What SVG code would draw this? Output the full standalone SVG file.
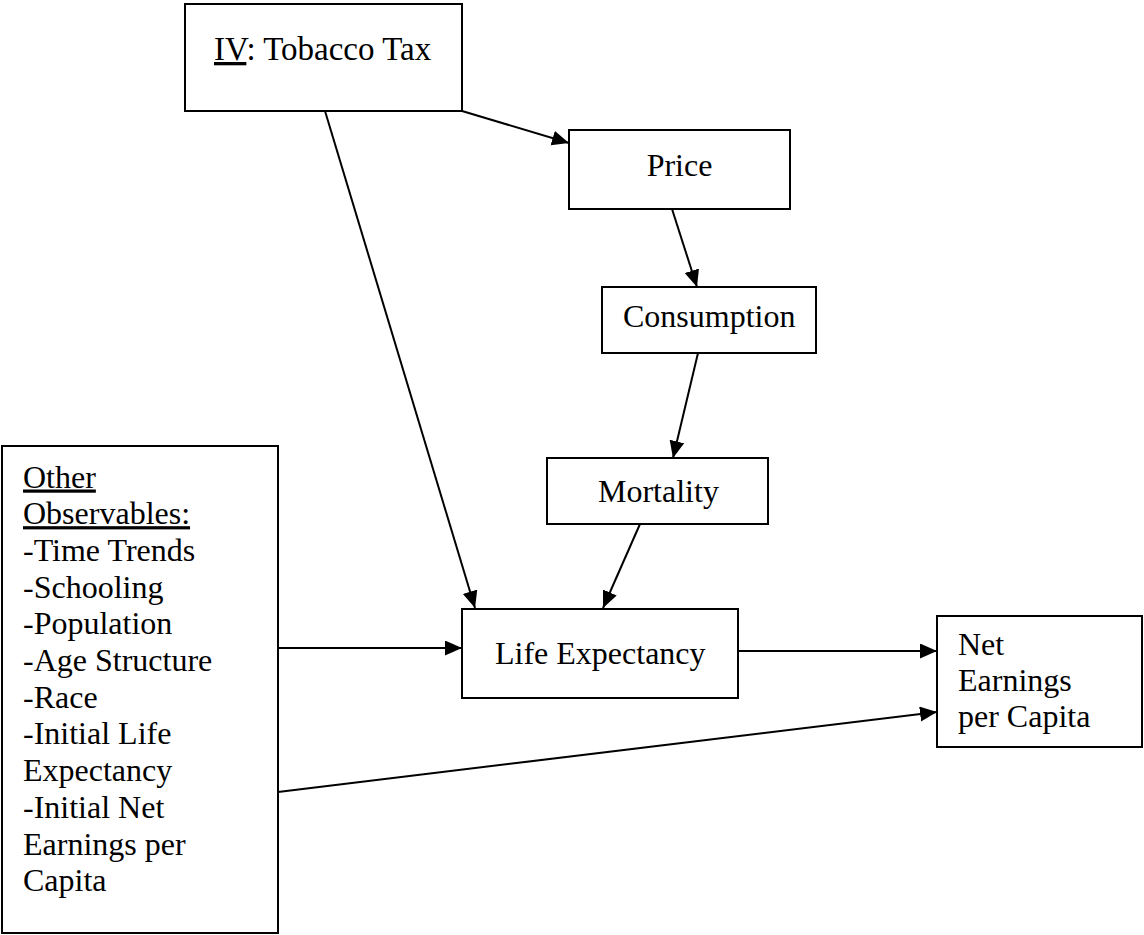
<svg xmlns="http://www.w3.org/2000/svg" width="1144" height="935" viewBox="0 0 1144 935">
<style>
.box{fill:#fff;stroke:#000;stroke-width:2}
.t{font-family:"Liberation Serif","Times New Roman",serif;font-size:32px;fill:#000}
.u{text-decoration:underline}
.c{stroke:#000;stroke-width:2;fill:none}
</style>
<defs>
<marker id="ah" markerUnits="userSpaceOnUse" markerWidth="18" markerHeight="16" refX="17" refY="7.5" orient="auto">
<path d="M0,0 L17,7.5 L0,15 z" fill="#000"/>
</marker>
</defs>
<rect width="1144" height="935" fill="#fff"/>
<g id="connectors">
<line class="c" x1="462" y1="111" x2="569" y2="143" marker-end="url(#ah)"/>
<line class="c" x1="325" y1="111" x2="475" y2="608" marker-end="url(#ah)"/>
<line class="c" x1="672" y1="209" x2="697" y2="287" marker-end="url(#ah)"/>
<line class="c" x1="698" y1="353" x2="673" y2="458" marker-end="url(#ah)"/>
<line class="c" x1="640" y1="524" x2="603" y2="608" marker-end="url(#ah)"/>
<line class="c" x1="278" y1="648" x2="462" y2="648" marker-end="url(#ah)"/>
<line class="c" x1="738" y1="651" x2="937" y2="651" marker-end="url(#ah)"/>
<line class="c" x1="278" y1="792" x2="937" y2="712" marker-end="url(#ah)"/>
</g>
<g id="iv">
<rect class="box" x="185" y="4" width="277" height="107"/>
<text class="t" x="214" y="60" style="font-size:33px"><tspan class="u">IV</tspan>: Tobacco Tax</text>
</g>
<g id="price">
<rect class="box" x="569" y="130" width="221" height="79"/>
<text class="t" x="679.5" y="176" text-anchor="middle">Price</text>
</g>
<g id="consumption">
<rect class="box" x="602" y="287" width="214" height="66"/>
<text class="t" x="623" y="327">Consumption</text>
</g>
<g id="mortality">
<rect class="box" x="547" y="458" width="221" height="66"/>
<text class="t" x="598" y="502">Mortality</text>
</g>
<g id="life">
<rect class="box" x="462" y="609" width="276" height="89"/>
<text class="t" x="495" y="664">Life Expectancy</text>
</g>
<g id="net">
<rect class="box" x="937" y="616" width="205" height="131"/>
<text class="t" x="958" y="655">Net</text>
<text class="t" x="958" y="691">Earnings</text>
<text class="t" x="958" y="727">per Capita</text>
</g>
<g id="other">
<rect class="box" x="2" y="446" width="276" height="487"/>
<text class="t" x="23" y="487.5"><tspan class="u">Other</tspan></text>
<text class="t" x="23" y="524.2"><tspan class="u">Observables:</tspan></text>
<text class="t" x="23" y="560.9">-Time Trends</text>
<text class="t" x="23" y="597.6">-Schooling</text>
<text class="t" x="23" y="634.3">-Population</text>
<text class="t" x="23" y="671">-Age Structure</text>
<text class="t" x="23" y="707.7">-Race</text>
<text class="t" x="23" y="744.4">-Initial Life</text>
<text class="t" x="23" y="781.1">Expectancy</text>
<text class="t" x="23" y="817.8">-Initial Net</text>
<text class="t" x="23" y="854.5">Earnings per</text>
<text class="t" x="23" y="891.2">Capita</text>
</g>
</svg>
